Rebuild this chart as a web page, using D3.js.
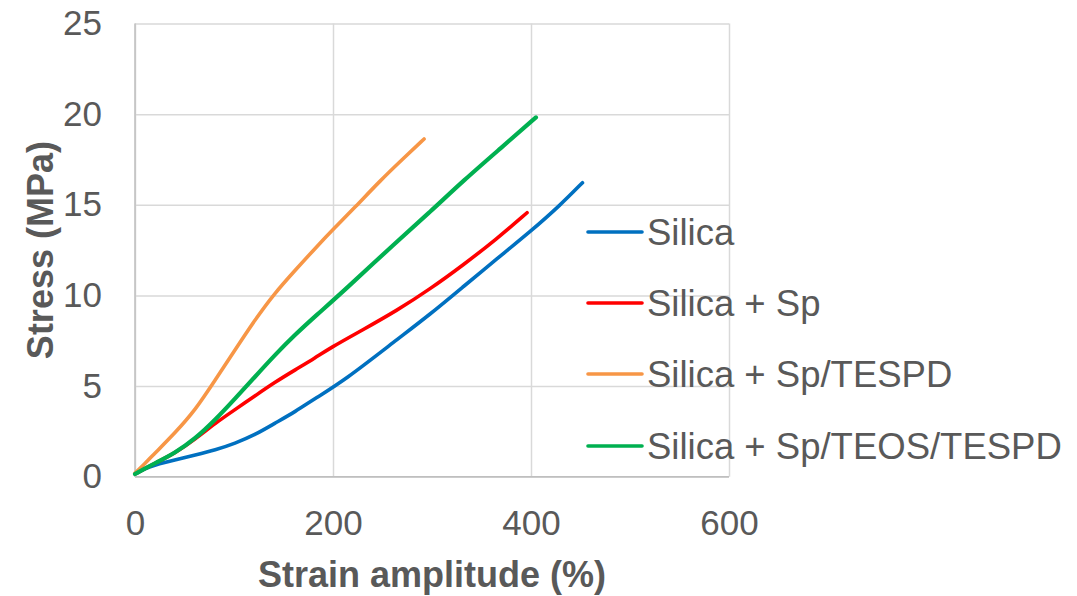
<!DOCTYPE html>
<html>
<head>
<meta charset="utf-8">
<script src="https://cdn.jsdelivr.net/npm/d3@7"></script>
<style>
  html, body { margin: 0; padding: 0; background: #fff; }
  svg { display: block; font-family: "Liberation Sans", Arial, sans-serif; }
</style>
</head>
<body>
<svg id="chart" width="1077" height="596"></svg>
<script>
// ---- data ----
const seriesNames = ["Silica", "Silica + Sp", "Silica + Sp/TESPD", "Silica + Sp/TEOS/TESPD"];
const seriesColors = ["#0070C0", "#FF0000", "#F79646", "#00B050"];

const silicaStrain = [0, 10, 20, 40, 61, 81, 101, 121, 141, 162, 182, 212, 264, 298, 332, 365, 399, 430, 452];
const silicaStress = [0.15, 0.45, 0.65, 0.92, 1.2, 1.47, 1.84, 2.3, 2.94, 3.59, 4.32, 5.33, 7.54, 8.95, 10.5, 12.0, 13.5, 15.0, 16.22];

const spStrain = [0, 10, 20, 40, 61, 81, 101, 121, 141, 162, 182, 197, 230, 264, 298, 332, 365, 396];
const spStress = [0.15, 0.45, 0.74, 1.29, 2.08, 2.95, 3.7, 4.45, 5.2, 5.9, 6.55, 7.1, 8.1, 9.15, 10.35, 11.7, 13.1, 14.56];

const tespdStrain = [0, 10, 20, 40, 61, 81, 101, 121, 141, 162, 182, 202, 222, 248, 270, 292];
const tespdStress = [0.2, 0.72, 1.29, 2.39, 3.68, 5.33, 6.99, 8.64, 10.12, 11.4, 12.6, 13.75, 14.85, 16.35, 17.5, 18.63];

const teosStrain = [0, 10, 20, 40, 61, 81, 101, 121, 141, 162, 182, 212, 264, 298, 332, 370, 405];
const teosStress = [0.15, 0.45, 0.74, 1.29, 2.1, 3.13, 4.3, 5.5, 6.7, 7.85, 8.85, 10.3, 12.95, 14.6, 16.35, 18.15, 19.82];

const xTicks = [0, 200, 400, 600];
const yTicks = [0, 5, 10, 15, 20, 25];
const xTitle = "Strain amplitude (%)";
const yTitle = "Stress (MPa)";

const seriesData = [
  silicaStrain.map((d, i) => [d, silicaStress[i]]),
  spStrain.map((d, i) => [d, spStress[i]]),
  tespdStrain.map((d, i) => [d, tespdStress[i]]),
  teosStrain.map((d, i) => [d, teosStress[i]])
];

// ---- layout ----
const plotLeft = 135, plotRight = 729, plotTop = 23.5, plotBottom = 476.7;
const svg = d3.select("#chart");
const x = d3.scaleLinear().domain([0, 600]).range([plotLeft, plotRight]);
const y = d3.scaleLinear().domain([0, 25]).range([plotBottom, plotTop]);

const textColor = "#595959";
const gridColor = "#D9D9D9";
const axisColor = "#BFBFBF";

// y axis + horizontal grid
const gy = svg.append("g").attr("transform", `translate(${plotLeft},0)`)
  .call(d3.axisLeft(y).tickValues(yTicks).tickSize(-(plotRight - plotLeft)).tickPadding(33));
gy.select(".domain").remove();
gy.selectAll(".tick line").attr("stroke", gridColor).attr("stroke-width", 1.5);
gy.selectAll(".tick text").attr("fill", textColor).attr("font-size", 35);

// x axis + vertical grid
const gx = svg.append("g").attr("transform", `translate(0,${plotBottom})`)
  .call(d3.axisBottom(x).tickValues(xTicks).tickSize(-(plotBottom - plotTop)).tickPadding(33.5));
gx.select(".domain").remove();
gx.selectAll(".tick line").attr("stroke", gridColor).attr("stroke-width", 1.5);
gx.selectAll(".tick text").attr("fill", textColor).attr("font-size", 35);

// axis lines
svg.append("line").attr("x1", plotLeft).attr("x2", plotLeft).attr("y1", plotTop).attr("y2", plotBottom)
  .attr("stroke", axisColor).attr("stroke-width", 1.5);
svg.append("line").attr("x1", plotLeft).attr("x2", plotRight).attr("y1", plotBottom).attr("y2", plotBottom)
  .attr("stroke", axisColor).attr("stroke-width", 1.5);

// series
const line = d3.line().x(d => x(d[0])).y(d => y(d[1])).curve(d3.curveBasis);
seriesData.forEach((data, i) => {
  svg.append("path")
    .datum(data)
    .attr("d", line)
    .attr("fill", "none")
    .attr("stroke", seriesColors[i])
    .attr("stroke-width", i === 3 ? 4.2 : 3.6)
    .attr("stroke-linecap", "round")
    .attr("stroke-linejoin", "round");
});

// axis titles
svg.append("text")
  .attr("x", (plotLeft + plotRight) / 2).attr("y", 587)
  .attr("text-anchor", "middle")
  .attr("font-size", 36).attr("font-weight", "bold").attr("fill", textColor)
  .text(xTitle);
svg.append("text")
  .attr("transform", `translate(53,${(plotTop + plotBottom) / 2}) rotate(-90)`)
  .attr("text-anchor", "middle")
  .attr("font-size", 36).attr("font-weight", "bold").attr("fill", textColor)
  .text(yTitle);

// legend
const legendY = [232, 303, 374, 446];
seriesNames.forEach((name, i) => {
  svg.append("line")
    .attr("x1", 588).attr("x2", 642).attr("y1", legendY[i]).attr("y2", legendY[i])
    .attr("stroke", seriesColors[i]).attr("stroke-width", 3.6).attr("stroke-linecap", "round");
  svg.append("text")
    .attr("x", 647).attr("y", legendY[i]).attr("dy", "0.35em")
    .attr("font-size", 36.5).attr("fill", textColor)
    .text(name);
});
</script>
</body>
</html>
